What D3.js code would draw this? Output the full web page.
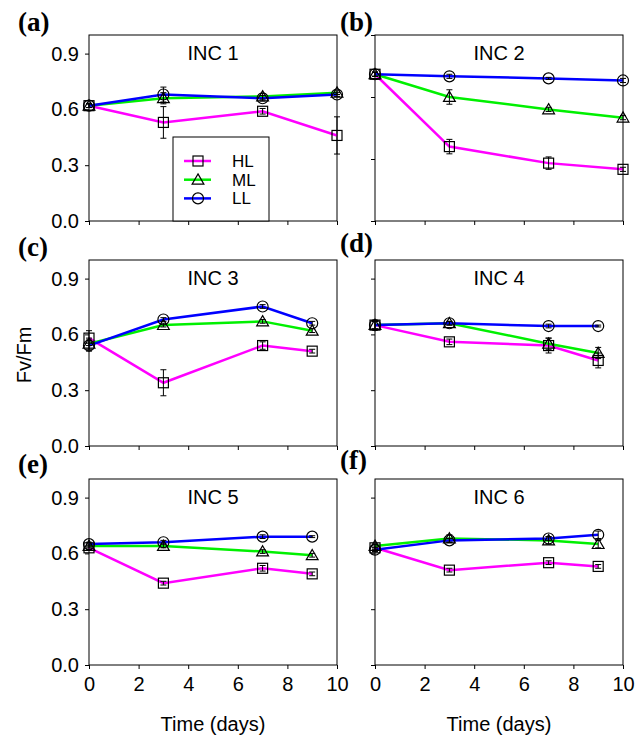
<!DOCTYPE html>
<html lang="en">
<head>
<meta charset="UTF-8">
<title>Fv/Fm over time, INC 1-6</title>
<script src="https://d3js.org/d3.v7.min.js"></script>
<style>
    body { margin: 0; background: #fff; }
    svg { display: block; font-family: Arial, "Liberation Sans", sans-serif; }
    .tick text { font-size: 20px; fill: #000; }
    .domain, .tick line { stroke: #000; }
</style>
</head>
<body>
<div id="chart"></div>
<script>
// ---- data ----
const panelLetters = ["(a)", "(b)", "(c)", "(d)", "(e)", "(f)"];
const panelTitles = ["INC 1", "INC 2", "INC 3", "INC 4", "INC 5", "INC 6"];
const panelDays = [[0, 3, 7, 10], [0, 3, 7, 10], [0, 3, 7, 9], [0, 3, 7, 9], [0, 3, 7, 9], [0, 3, 7, 9]];
const panelYMax = [1.0, 0.9, 1.0, 1.0, 1.0, 1.0];
const yTickValues = [0, 0.3, 0.6, 0.9];
const xTickValues = [0, 2, 4, 6, 8, 10];

const seriesNames = ["HL", "ML", "LL"];

const hlMean = [
    [0.62, 0.53, 0.59, 0.46],
    [0.71, 0.36, 0.28, 0.25],
    [0.58, 0.34, 0.54, 0.51],
    [0.65, 0.56, 0.54, 0.46],
    [0.63, 0.44, 0.52, 0.49],
    [0.63, 0.51, 0.55, 0.53]
];
const hlErr = [
    [0.01, 0.085, 0.015, 0.10],
    [0.01, 0.035, 0.03, 0.01],
    [0.04, 0.07, 0.02, 0.01],
    [0.02, 0.015, 0.04, 0.04],
    [0.01, 0.01, 0.015, 0.01],
    [0.01, 0.01, 0.01, 0.01]
];
const mlMean = [
    [0.62, 0.66, 0.67, 0.69],
    [0.71, 0.60, 0.54, 0.50],
    [0.55, 0.65, 0.67, 0.62],
    [0.65, 0.66, 0.55, 0.50],
    [0.64, 0.64, 0.61, 0.59],
    [0.64, 0.68, 0.67, 0.65]
];
const mlErr = [
    [0.01, 0.03, 0.015, 0.01],
    [0.01, 0.035, 0.01, 0.01],
    [0.03, 0.01, 0.01, 0.01],
    [0.02, 0.01, 0.03, 0.03],
    [0.01, 0.01, 0.01, 0.01],
    [0.01, 0.02, 0.02, 0.02]
];
const llMean = [
    [0.62, 0.68, 0.66, 0.68],
    [0.71, 0.70, 0.69, 0.68],
    [0.54, 0.68, 0.75, 0.66],
    [0.65, 0.66, 0.645, 0.645],
    [0.65, 0.66, 0.69, 0.69],
    [0.62, 0.67, 0.68, 0.70]
];
const llErr = [
    [0.01, 0.04, 0.015, 0.01],
    [0.01, 0.01, 0.005, 0.01],
    [0.03, 0.01, 0.01, 0.01],
    [0.025, 0.01, 0.01, 0.005],
    [0.01, 0.01, 0.01, 0.005],
    [0.01, 0.01, 0.01, 0.02]
];

// ---- layout ----
const W = 644, H = 737;
const colLeft = [89, 375];
const rowTop = [35, 260, 479];
const panelW = 248, panelH = 186;
const colors = { HL: "#ff00ff", ML: "#00f000", LL: "#0000ff" };

const svg = d3.select("#chart").append("svg")
    .attr("width", W)
    .attr("height", H);

// marker drawing
function drawMarker(g, name, cx, cy) {
    if (name === "HL") {
        g.append("rect")
            .attr("x", cx - 5).attr("y", cy - 5)
            .attr("width", 10).attr("height", 10)
            .attr("fill", "none").attr("stroke", "#000").attr("stroke-width", 1.2);
    } else if (name === "ML") {
        const s = d3.symbol().type(d3.symbolTriangle).size(60);
        g.append("path")
            .attr("d", s())
            .attr("transform", `translate(${cx},${cy + 1})`)
            .attr("fill", "none").attr("stroke", "#000").attr("stroke-width", 1.2);
    } else {
        g.append("circle")
            .attr("cx", cx).attr("cy", cy).attr("r", 5.5)
            .attr("fill", "none").attr("stroke", "#000").attr("stroke-width", 1.2);
    }
}

panelTitles.forEach((title, i) => {
    const col = i % 2, row = Math.floor(i / 2);
    const left = colLeft[col], top = rowTop[row];

    const x = d3.scaleLinear().domain([0, 10]).range([0, panelW]);
    const y = d3.scaleLinear().domain([0, panelYMax[i]]).range([panelH, 0]);

    const g = svg.append("g").attr("transform", `translate(${left},${top})`);

    // frame
    g.append("rect")
        .attr("width", panelW).attr("height", panelH)
        .attr("fill", "none").attr("stroke", "#000").attr("stroke-width", 1);

    // axes
    const yTicks = yTickValues.filter(v => v <= panelYMax[i] + 1e-9);
    g.append("g")
        .call(d3.axisLeft(y).tickValues(yTicks).tickSize(4).tickPadding(6)
            .tickFormat(col === 0 ? d3.format(".1f") : () => ""))
        .call(a => a.select(".domain").remove());

    g.append("g")
        .attr("transform", `translate(0,${panelH})`)
        .call(d3.axisBottom(x).tickValues(xTickValues).tickSize(4).tickPadding(8)
            .tickFormat(row === 2 ? d3.format("d") : () => ""))
        .call(a => a.select(".domain").remove());

    // title inside panel
    g.append("text")
        .attr("x", panelW / 2).attr("y", 25)
        .attr("text-anchor", "middle")
        .style("font-size", "20px")
        .text(title);

    // panel letter
    svg.append("text")
        .attr("x", col === 0 ? 18 : 340)
        .attr("y", [31, 256, 473][row] - (col === 1 && row > 0 ? 4 : 0))
        .style("font-family", "'Liberation Serif', 'Times New Roman', serif")
        .style("font-weight", "bold")
        .style("font-size", "27px")
        .text(panelLetters[i]);

    const series = [
        { name: "HL", mean: hlMean[i], err: hlErr[i] },
        { name: "ML", mean: mlMean[i], err: mlErr[i] },
        { name: "LL", mean: llMean[i], err: llErr[i] }
    ];

    const line = d3.line()
        .x((d, k) => x(panelDays[i][k]))
        .y(d => y(d));

    series.forEach(s => {
        g.append("path")
            .datum(s.mean)
            .attr("fill", "none")
            .attr("stroke", colors[s.name])
            .attr("stroke-width", 2.5)
            .attr("d", line);
    });

    series.forEach(s => {
        s.mean.forEach((m, k) => {
            const cx = x(panelDays[i][k]);
            const e = s.err[k];
            const eb = g.append("g").attr("stroke", "#000").attr("stroke-width", 1);
            eb.append("line").attr("x1", cx).attr("x2", cx).attr("y1", y(m - e)).attr("y2", y(m + e));
            eb.append("line").attr("x1", cx - 3).attr("x2", cx + 3).attr("y1", y(m - e)).attr("y2", y(m - e));
            eb.append("line").attr("x1", cx - 3).attr("x2", cx + 3).attr("y1", y(m + e)).attr("y2", y(m + e));
            drawMarker(g, s.name, cx, y(m));
        });
    });

    // x axis title under bottom row
    if (row === 2) {
        svg.append("text")
            .attr("x", left + panelW / 2).attr("y", 731)
            .attr("text-anchor", "middle")
            .style("font-size", "20px")
            .text("Time (days)");
    }

    // legend in panel (a)
    if (i === 0) {
        const lg = g.append("g").attr("transform", `translate(84,102)`);
        lg.append("rect")
            .attr("width", 96).attr("height", panelH - 102)
            .attr("fill", "#fff").attr("stroke", "#000").attr("stroke-width", 1);
        seriesNames.forEach((name, k) => {
            const ly = 24 + k * 18.7;
            lg.append("line")
                .attr("x1", 11).attr("x2", 38).attr("y1", ly).attr("y2", ly)
                .attr("stroke", colors[name]).attr("stroke-width", 2.5);
            drawMarker(lg, name, 25, ly);
            lg.append("text")
                .attr("x", 59).attr("y", ly + 6)
                .style("font-size", "17px")
                .text(name);
        });
    }
});

// y axis title
svg.append("text")
    .attr("transform", "translate(31,355) rotate(-90)")
    .attr("text-anchor", "middle")
    .style("font-size", "20px")
    .text("Fv/Fm");
</script>
</body>
</html>
